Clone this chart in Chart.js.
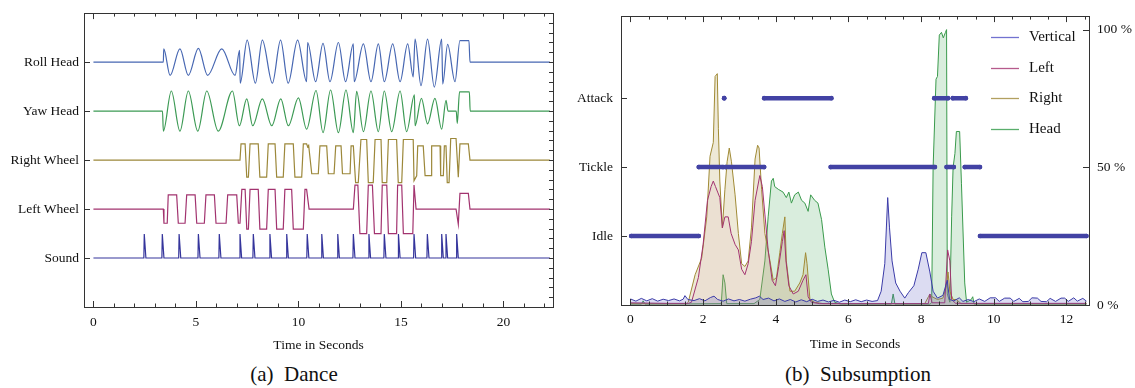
<!DOCTYPE html>
<html>
<head>
<meta charset="utf-8">
<script src="https://cdn.jsdelivr.net/npm/chart.js@4.4.0/dist/chart.umd.min.js"></script>
<style>
  html, body { margin: 0; padding: 0; background: #fff; }
  #wrap { position: relative; width: 1135px; height: 388px; overflow: hidden;
          font-family: 'Liberation Serif', 'Times New Roman', serif; color: #111; }
  canvas { position: absolute; top: 0; }
  #dance { left: 0; }
  #subs { left: 570px; }
  .cap { position: absolute; top: 362px; font-size: 21px; white-space: pre; transform: translateX(-50%); }
</style>
</head>
<body>
<div id="wrap">
  <canvas id="dance" width="570" height="356" style="width:570px;height:356px"></canvas>
  <canvas id="subs" width="565" height="356" style="width:565px;height:356px"></canvas>
  <div class="cap" style="left:294px">(a)  Dance</div>
  <div class="cap" style="left:858px">(b)  Subsumption</div>
</div>
<script>
// ---- (a) Dance ----
// channels from bottom to top, each drawn around its own baseline
const danceChannels = ['Sound', 'Left Wheel', 'Right Wheel', 'Yaw Head', 'Roll Head'];
const danceTimeTicks = [0, 5, 10, 15, 20];
const danceEnd = 22.27;

// [seconds, offset from the channel baseline]
const rollHead = [[0,0],[3.41,0],[3.43,0.27],[3.74,-0.27],[4.22,0.27],[4.63,-0.27],[5.12,0.28],[5.57,-0.27],
  [6.26,0.27],[6.91,-0.27],[7.13,0.24],[7.16,-0.43],[7.5,0.45],[7.9,-0.43],[8.24,0.45],[8.73,-0.43],[9.13,0.45],
  [9.5,-0.43],[9.96,0.45],[10.4,-0.4],[10.45,0.4],[10.84,-0.4],[11.2,0.38],[11.54,-0.4],[11.95,0.4],[12.3,-0.4],
  [12.68,0.37],[12.72,-0.4],[13.17,0.37],[13.54,-0.4],[13.9,0.37],[14.19,-0.4],[14.6,0.37],[14.96,-0.4],
  [15.33,0.37],[15.6,-0.3],[15.69,0.47],[15.98,-0.48],[16.3,0.47],[16.63,-0.51],[16.99,0.47],[17.04,-0.45],
  [17.28,0.36],[17.64,-0.4],[17.88,0.44],[18.32,0.44],[18.37,0],[danceEnd,0]];

const yawHead = [[0,0],[3.37,0],[3.41,-0.41],[3.8,0.41],[4.22,-0.41],[4.63,0.41],[5.09,-0.41],[5.53,0.41],
  [6.09,-0.41],[6.78,0.41],[7.12,-0.3],[7.48,0.25],[7.77,-0.3],[8.24,0.25],[8.7,-0.3],[9.14,0.25],[9.51,-0.3],
  [10.0,0.27],[10.4,-0.37],[10.86,0.42],[11.2,-0.44],[11.57,0.43],[11.95,-0.44],[12.32,0.43],[12.68,-0.44],
  [12.84,0.4],[13.17,-0.42],[13.54,0.41],[13.9,-0.42],[14.19,0.41],[14.55,-0.42],[14.96,0.41],[15.28,-0.42],
  [15.66,0.33],[15.69,-0.3],[16.0,0.26],[16.3,-0.26],[16.66,0.26],[16.99,-0.37],[17.2,0.22],[17.3,0],
  [17.7,0],[17.75,-0.25],[17.86,0.39],[18.34,0.39],[18.38,0],[danceEnd,0]];

const rightWheel = [[0,0],[7.15,0],[7.2,0.33],[7.4,0.33],[7.48,-0.35],[7.56,-0.35],[7.64,0.33],[8.04,0.33],
  [8.12,-0.35],[8.45,-0.35],[8.53,0.33],[8.86,0.33],[8.94,-0.35],[9.26,-0.35],[9.34,0.33],[9.75,0.33],
  [9.83,-0.35],[10.16,-0.35],[10.24,0.33],[10.4,0.33],[10.45,0.27],[10.5,0.3],[10.65,-0.28],[10.97,-0.28],
  [11.05,0.29],[11.38,0.29],[11.46,-0.28],[11.74,-0.28],[11.82,0.29],[12.08,0.29],[12.15,-0.28],[12.52,-0.28],
  [12.57,0.29],[12.68,0.29],[12.79,-0.46],[12.92,-0.46],[13.05,0.42],[13.33,0.42],[13.41,-0.46],[13.65,-0.46],
  [13.74,0.42],[14.03,0.42],[14.09,-0.46],[14.31,-0.46],[14.39,0.42],[14.79,0.42],[14.87,-0.46],[15.04,-0.46],
  [15.12,0.42],[15.6,0.42],[15.64,-0.42],[15.77,-0.32],[15.82,0.29],[16.09,0.29],[16.18,-0.32],[16.47,-0.32],
  [16.5,0.29],[16.91,0.29],[16.94,-0.32],[17.07,-0.32],[17.12,0.29],[17.2,0.29],[17.26,-0.46],[17.35,-0.46],
  [17.43,0.44],[17.69,0.44],[17.8,-0.35],[17.88,0.33],[18.29,0.33],[18.37,0],[danceEnd,0]];

const leftWheel = [[0,0],[3.41,0],[3.44,-0.29],[3.6,-0.29],[3.65,0.29],[4.06,0.29],[4.14,-0.29],[4.47,-0.29],
  [4.55,0.29],[4.96,0.29],[5.04,-0.29],[5.41,-0.29],[5.49,0.29],[5.9,0.29],[5.98,-0.29],[6.47,-0.29],
  [6.55,0.29],[6.99,0.29],[7.07,-0.29],[7.15,-0.29],[7.24,0.4],[7.4,0.4],[7.48,-0.41],[7.56,-0.41],[7.64,0.4],
  [8.04,0.4],[8.12,-0.41],[8.45,-0.41],[8.53,0.4],[8.86,0.4],[8.94,-0.41],[9.26,-0.41],[9.34,0.4],[9.67,0.4],
  [9.75,-0.41],[10.24,-0.41],[10.32,0.4],[10.4,0.4],[10.52,0],[12.68,0],[12.76,0.49],[12.9,0.49],[13.0,-0.5],
  [13.33,-0.5],[13.41,0.49],[13.61,0.49],[13.71,-0.5],[14.03,-0.5],[14.09,0.49],[14.31,0.49],[14.39,-0.5],
  [14.79,-0.5],[14.84,0.49],[15.04,0.49],[15.12,-0.5],[15.58,-0.5],[15.64,0.49],[15.74,0],[17.69,0],
  [17.8,-0.31],[17.88,0.32],[18.29,0.32],[18.37,0],[danceEnd,0]];

// times of the sound pulses and their height
const soundBeats = [2.48, 3.36, 4.18, 5.12, 6.14, 7.15, 7.8, 8.61, 9.43, 10.43, 11.14, 11.92, 12.68,
  13.44, 14.19, 14.88, 15.64, 16.29, 16.99, 17.2, 17.72];
const soundPeak = 0.49;

// ---- (b) Subsumption ----
const behaviourStates = ['Idle', 'Tickle', 'Attack'];
// [state level, from s, to s]
const behaviourRuns = [[1,0.02,1.88],[2,1.88,2.55],[3,2.58,2.58],[2,2.61,3.68],[3,3.68,5.53],[2,5.51,8.38],
  [3,8.36,8.74],[2,8.7,8.9],[3,8.87,9.23],[2,9.2,9.62],[1,9.62,12.55]];
const activityTicks = [0, 50, 100];
const subsTimeTicks = [0, 2, 4, 6, 8, 10, 12];

// [seconds, activity %]
const vertical = [[0,2.2],[0.15,1.4],[0.3,2.4],[0.45,1.5],[0.6,2.3],[0.75,1.4],[0.9,2.1],[1.05,1.6],[1.2,2.2],
  [1.35,1.5],[1.45,2.1],[1.5,3.4],[1.58,2.0],[1.75,1.6],[1.9,2.3],[2.05,1.5],[2.2,2.7],[2.3,3.2],[2.4,2.0],
  [2.55,1.4],[2.7,2.2],[2.85,1.5],[3.0,2.0],[3.15,1.4],[3.3,2.1],[3.45,2.6],[3.55,3.2],[3.65,2.0],[3.8,2.5],
  [3.95,1.5],[4.1,2.2],[4.25,1.3],[4.4,2.0],[4.55,1.1],[4.7,1.9],[4.85,1.2],[5.0,2.1],[5.15,1.3],[5.3,1.8],
  [5.45,1.1],[5.6,1.7],[5.75,1.0],[5.9,1.8],[6.05,1.2],[6.2,1.9],[6.35,1.2],[6.5,1.8],[6.65,1.3],[6.8,1.6],
  [6.9,5],[7.0,15],[7.08,39],[7.13,28],[7.2,16],[7.3,8],[7.42,5],[7.55,2.5],[7.65,4.5],[7.8,7],[7.92,13],
  [8.02,19],[8.13,19],[8.24,12],[8.33,5],[8.45,2.5],[8.6,3.5],[8.72,9],[8.78,2],[8.9,1.5],[9.05,2.6],
  [9.15,1.3],[9.3,2.0],[9.45,1.2],[9.6,2.2],[9.75,1.3],[9.9,2.6],[10.05,2.6],[10.15,1.3],[10.3,2.5],
  [10.45,2.5],[10.55,1.3],[10.7,2.4],[10.8,1.2],[10.95,1.3],[11.05,2.6],[11.2,2.5],[11.3,1.3],[11.45,1.2],
  [11.55,2.4],[11.7,1.3],[11.85,2.5],[11.95,2.5],[12.05,1.3],[12.2,2.6],[12.3,1.4],[12.45,2.4],[12.55,1.4]];

const left = [[0,0.8],[1.0,0.6],[1.6,0.6],[1.68,1],[1.87,10],[2.0,22],[2.12,38],[2.22,43],[2.28,45],[2.34,43],
  [2.4,41],[2.46,39],[2.53,28],[2.6,32],[2.69,32],[2.77,26],[2.88,22],[2.97,20],[3.06,13],[3.15,11],[3.24,15],
  [3.33,23],[3.43,38],[3.56,47],[3.63,43],[3.7,33],[3.79,20],[3.9,9],[3.99,7],[4.08,14],[4.18,23],[4.23,27],
  [4.28,16],[4.36,7],[4.48,4],[4.62,5],[4.75,9],[4.83,11],[4.89,3],[4.98,1],[5.2,0.5],[8.2,0.5],[8.24,4],
  [8.3,0.8],[8.65,0.8],[8.73,20],[8.79,16],[8.84,2],[8.95,0.6],[12.55,0.6]];

const right = [[0,0.5],[1.55,0.5],[1.59,1],[1.78,11],[1.96,17],[2.1,32],[2.19,54],[2.28,59],[2.33,83],[2.39,84],
  [2.42,64],[2.46,45],[2.53,28],[2.6,42],[2.66,52],[2.72,57],[2.78,52],[2.88,40],[2.97,26],[3.06,15],[3.15,14],
  [3.24,16],[3.33,28],[3.43,53],[3.5,58],[3.54,57],[3.61,42],[3.7,26],[3.84,16],[3.93,9],[4.02,10],[4.11,19],
  [4.18,26],[4.25,32],[4.29,16],[4.39,5],[4.52,5],[4.66,8],[4.75,11],[4.82,19],[4.86,15],[4.94,2],[5.07,1],
  [5.3,0.5],[8.1,0.5],[8.2,3],[8.24,4],[8.3,3],[8.45,2],[8.6,2.5],[8.7,7],[8.74,12],[8.79,5],[8.88,2],
  [8.97,2],[9.1,0.5],[12.55,0.5]];

const head = [[0,0.3],[0.3,0.3],[0.35,1.5],[0.4,0.3],[2.5,0.5],[2.55,11],[2.6,8],[2.65,0.5],[3.4,0.5],
  [3.56,2],[3.7,16],[3.79,32],[3.88,45],[3.93,46],[3.97,43],[4.07,42],[4.2,41],[4.29,39],[4.36,41],[4.43,37],
  [4.52,40],[4.62,41],[4.71,38],[4.8,37],[4.89,34],[4.96,40],[5.07,38],[5.16,37],[5.26,31],[5.35,21],
  [5.44,13],[5.53,4],[5.62,1],[5.8,0.3],[7.18,0.3],[7.23,4],[7.28,0.3],[8.25,0.3],[8.29,1],[8.33,50],
  [8.41,82],[8.45,83],[8.5,98],[8.56,99],[8.61,97],[8.67,99],[8.7,100],[8.72,4],[8.79,1],[8.84,32],[8.88,50],
  [8.93,55],[8.97,63],[9.06,63],[9.11,44],[9.2,8],[9.25,1],[9.38,2],[9.42,3],[9.46,0.3],[12.55,0.3]];

Chart.defaults.font.family = "'Liberation Serif', 'Times New Roman', serif";
Chart.defaults.color = '#111';

const toXY = (arr, base) => arr.map(([t, v]) => ({ x: t, y: base + v }));

// Mathematica-style frame with inward ticks
const frameTicks = {
  id: 'frameTicks',
  afterDraw(chart, args, o) {
    const { ctx, chartArea: a, scales } = chart;
    ctx.save();
    ctx.strokeStyle = '#333';
    ctx.lineWidth = 1;
    ctx.strokeRect(Math.round(a.left) + 0.5, Math.round(a.top) + 0.5,
      Math.round(a.right - a.left), Math.round(a.bottom - a.top));
    ctx.beginPath();
    o.xMinor.forEach(v => {
      const px = Math.round(scales.x.getPixelForValue(v)) + 0.5;
      const len = o.xMajor.includes(v) ? 6 : 3.5;
      ctx.moveTo(px, a.bottom); ctx.lineTo(px, a.bottom - len);
      ctx.moveTo(px, a.top); ctx.lineTo(px, a.top + len);
    });
    o.yLeft.forEach(v => {
      const py = Math.round(scales.y.getPixelForValue(v)) + 0.5;
      ctx.moveTo(a.left, py); ctx.lineTo(a.left + 6, py);
    });
    const rs = scales[o.rightScale];
    o.yRight.forEach(v => {
      const py = Math.round(rs.getPixelForValue(v)) + 0.5;
      ctx.moveTo(a.right, py); ctx.lineTo(a.right - o.rightLen, py);
    });
    ctx.stroke();
    ctx.restore();
  }
};

// legend drawn inside the plot, top right
const insideLegend = {
  id: 'insideLegend',
  afterDraw(chart, args, o) {
    const { ctx, chartArea: a } = chart;
    ctx.save();
    ctx.font = "15px 'Liberation Serif', serif";
    ctx.textBaseline = 'middle';
    chart.data.datasets.filter(d => d.inLegend).forEach((d, i) => {
      const y = Math.round(a.top + o.top + i * o.gap) + 0.5;
      const x = a.left + o.left;
      ctx.strokeStyle = d.legendColor;
      ctx.lineWidth = 1.3;
      ctx.beginPath(); ctx.moveTo(x, y); ctx.lineTo(x + 28, y); ctx.stroke();
      ctx.fillStyle = '#111';
      ctx.fillText(d.label, x + 38, y);
    });
    ctx.restore();
  }
};

// ---------- chart (a)
const soundLine = [[0, 0]];
soundBeats.forEach(t => soundLine.push([t - 0.02, 0], [t, soundPeak], [t + 0.08, 0]));
soundLine.push([danceEnd, 0]);

const danceSeries = [
  { label: 'Roll Head', pts: rollHead, level: 5, color: '#4767b2', smooth: true },
  { label: 'Yaw Head', pts: yawHead, level: 4, color: '#3c9a54', smooth: true },
  { label: 'Right Wheel', pts: rightWheel, level: 3, color: '#9c883a', smooth: false },
  { label: 'Left Wheel', pts: leftWheel, level: 2, color: '#a2336f', smooth: false },
  { label: 'Sound', pts: soundLine, level: 1, color: '#35359c', smooth: false }
];

const danceMinor = [];
for (let i = 0; i <= 22; i++) danceMinor.push(i);
const danceRight = [];
for (let i = 1; i < 30; i++) danceRight.push(i * 0.2);

new Chart(document.getElementById('dance'), {
  type: 'line',
  data: {
    datasets: danceSeries.map(s => ({
      label: s.label,
      data: toXY(s.pts, s.level),
      borderColor: s.color,
      borderWidth: 1.2,
      pointRadius: 0,
      fill: false,
      tension: 0,
      cubicInterpolationMode: s.smooth ? 'monotone' : 'default'
    }))
  },
  options: {
    responsive: false,
    animation: false,
    events: [],
    layout: { padding: { top: 12, right: 17, left: 0, bottom: 0 } },
    scales: {
      x: {
        type: 'linear', min: -0.46, max: 22.42,
        grid: { display: false, drawTicks: false }, border: { display: false },
        afterBuildTicks: s => { s.ticks = danceTimeTicks.map(v => ({ value: v })); },
        afterFit: s => { s.height = 49; },
        ticks: { padding: 7, font: { size: 13.5 }, color: '#111' },
        title: { display: true, text: 'Time in Seconds', font: { size: 13.5 }, color: '#111', padding: { top: 2, bottom: 2 } }
      },
      y: {
        type: 'linear', min: 0, max: 6,
        grid: { display: false, drawTicks: false }, border: { display: false },
        afterBuildTicks: s => { s.ticks = danceChannels.map((c, i) => ({ value: i + 1 })); },
        afterFit: s => { s.width = 84; },
        ticks: { padding: 5, font: { size: 13.5 }, color: '#111', callback: v => danceChannels[v - 1] }
      }
    },
    plugins: {
      legend: { display: false },
      tooltip: { enabled: false },
      frameTicks: { xMajor: danceTimeTicks, xMinor: danceMinor, yLeft: [1, 2, 3, 4, 5],
                    yRight: danceRight, rightScale: 'y', rightLen: 4 }
    }
  },
  plugins: [frameTicks]
});

// ---------- chart (b)
const stateLine = [];
behaviourRuns.forEach(([lvl, from, to]) => {
  stateLine.push({ x: from, y: lvl }, { x: to, y: lvl }, { x: to, y: null });
});

const subsMinor = [];
for (let i = 0; i <= 25; i++) subsMinor.push(i * 0.5);

const sig = (label, pts, line, fillCol, legendCol, order) => ({
  label, data: toXY(pts, 0), yAxisID: 'y2', order,
  borderColor: line, backgroundColor: fillCol, legendColor: legendCol,
  borderWidth: 1, pointRadius: 0, tension: 0, fill: 'origin', inLegend: true
});

new Chart(document.getElementById('subs'), {
  type: 'line',
  data: {
    datasets: [
      sig('Vertical', vertical, '#3b3ba8', 'rgba(95,95,195,0.22)', '#7272d0', 1),
      sig('Left', left, '#a2336f', 'rgba(175,60,120,0.05)', '#b65a8c', 2),
      sig('Right', right, '#a08a35', 'rgba(195,175,110,0.28)', '#b2a060', 3),
      sig('Head', head, '#3a9a4c', 'rgba(80,175,100,0.22)', '#5aae6c', 4),
      {
        label: 'state', data: stateLine, yAxisID: 'y', order: 0,
        borderColor: '#4242a4', backgroundColor: '#4242a4', borderWidth: 4.5,
        borderCapStyle: 'round', pointRadius: 2.3, pointBorderWidth: 0,
        spanGaps: false, fill: false, tension: 0
      }
    ]
  },
  options: {
    responsive: false,
    animation: false,
    events: [],
    layout: { padding: { top: 13, right: 0, left: 0, bottom: 0 } },
    scales: {
      x: {
        type: 'linear', min: -0.26, max: 12.62,
        grid: { display: false, drawTicks: false }, border: { display: false },
        afterBuildTicks: s => { s.ticks = subsTimeTicks.map(v => ({ value: v })); },
        afterFit: s => { s.height = 51; },
        ticks: { padding: 6, font: { size: 13.5 }, color: '#111' },
        title: { display: true, text: 'Time in Seconds', font: { size: 13.5 }, color: '#111', padding: { top: 2, bottom: 3 } }
      },
      y: {
        type: 'linear', position: 'left', min: 0, max: 4.19,
        grid: { display: false, drawTicks: false }, border: { display: false },
        afterBuildTicks: s => { s.ticks = behaviourStates.map((c, i) => ({ value: i + 1 })); },
        afterFit: s => { s.width = 51; },
        ticks: { padding: 8, font: { size: 13.5 }, color: '#111', callback: v => behaviourStates[v - 1] }
      },
      y2: {
        type: 'linear', position: 'right', min: 0, max: 104.9,
        grid: { display: false, drawTicks: false }, border: { display: false },
        afterBuildTicks: s => { s.ticks = activityTicks.map(v => ({ value: v })); },
        afterFit: s => { s.width = 46; },
        ticks: { padding: 8, font: { size: 13.5 }, color: '#111', callback: v => v + ' %' }
      }
    },
    plugins: {
      legend: { display: false },
      tooltip: { enabled: false },
      frameTicks: { xMajor: subsTimeTicks, xMinor: subsMinor, yLeft: [1, 2, 3],
                    yRight: activityTicks, rightScale: 'y2', rightLen: 6 },
      insideLegend: { left: 370, top: 21, gap: 30.5 }
    }
  },
  plugins: [frameTicks, insideLegend]
});
</script>
</body>
</html>
